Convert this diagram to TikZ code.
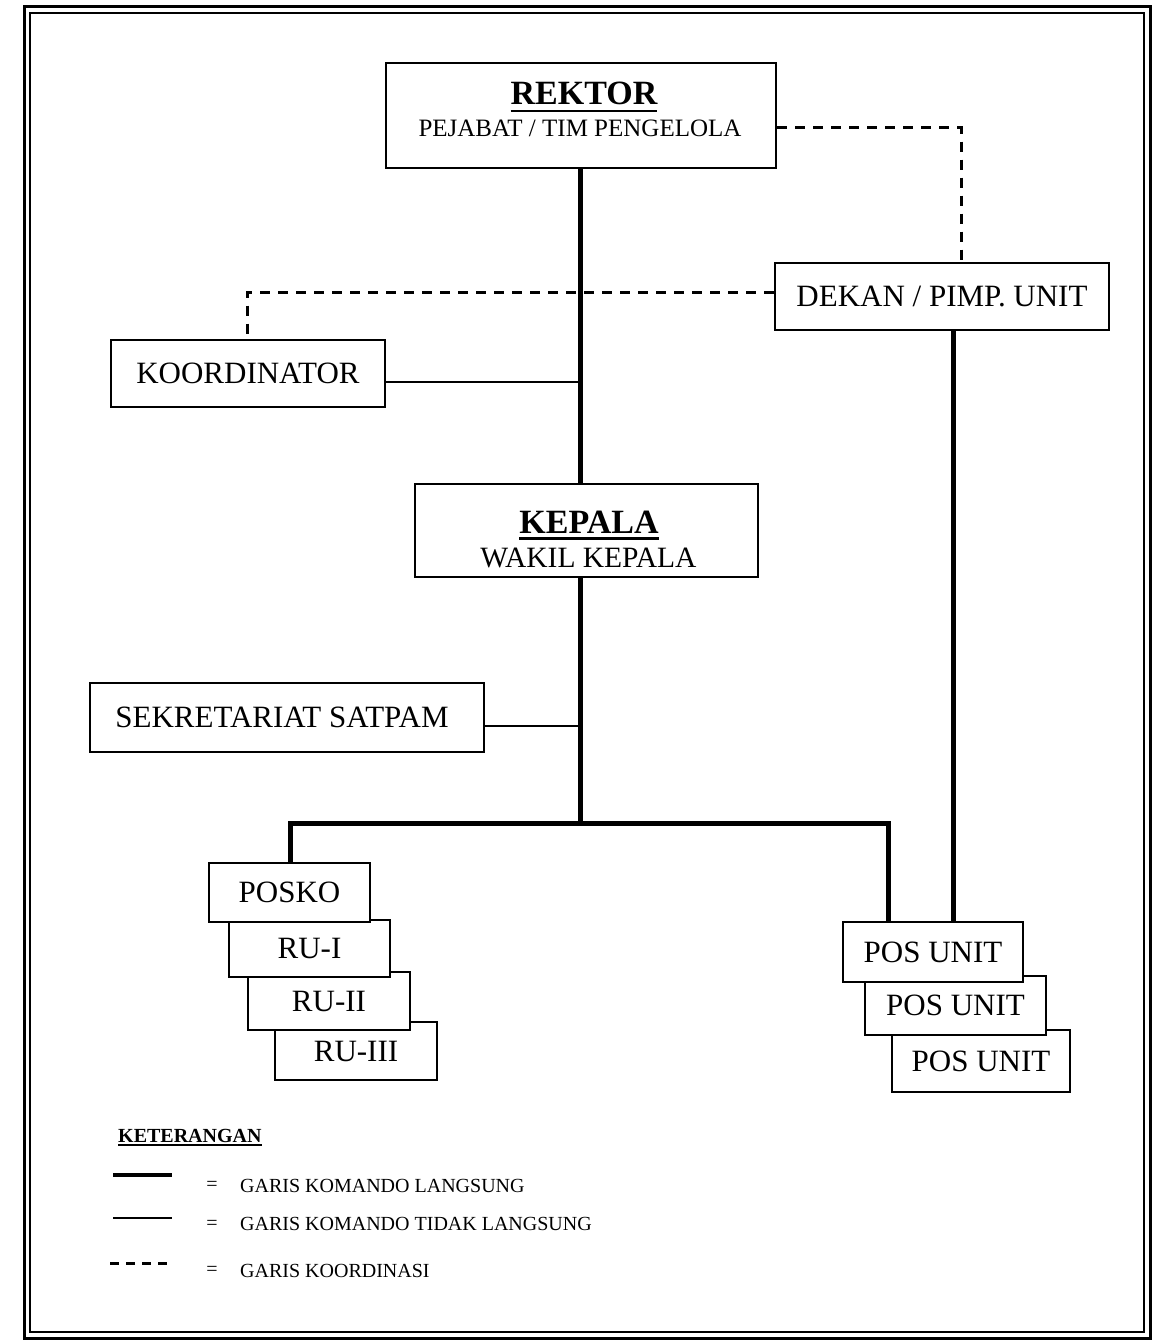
\documentclass[tikz,border=0pt]{standalone}
\usepackage{fontspec}
\setmainfont{Liberation Serif}
\newcommand{\myul}[3]{\setbox0\hbox{#3}\rlap{\raisebox{-#1}{\rule{\wd0}{#2}}}\box0}
\begin{document}
\begin{tikzpicture}[x=1pt,y=-1pt,
  box/.style={draw, line width=2.4pt, fill=white, inner sep=0pt,
    font=\fontsize{31}{31}\selectfont, text height=20.5pt, text depth=0pt},
  direct/.style={line width=5pt},
  indirect/.style={line width=2pt},
  coordline/.style={line width=3pt, dash pattern=on 10pt off 8pt},
  lbl/.style={inner sep=0pt, anchor=base},
  legtext/.style={inner sep=0pt, anchor=base west, font=\fontsize{20}{20}\selectfont},
]
\useasboundingbox (0,0) rectangle (1158,1343);

% double frame
\draw[line width=3pt] (24,7) rectangle (1150,1338);
\draw[line width=1.8pt] (30,13) rectangle (1144,1332);

% helper coordinates
\coordinate (sx) at (580,0);
\coordinate (hb) at (580,823);
\coordinate (bl) at (290,823);
\coordinate (br) at (888,823);
\coordinate (dx) at (953,0);
\coordinate (rx) at (961,0);
\coordinate (kx) at (247,0);

% top boxes
\node[box, minimum width=390pt, minimum height=105pt] (rektor) at (581,115.5) {};
\node[lbl, font=\fontsize{34}{34}\selectfont\bfseries] (rektorT) at (584,105) {\myul{7.5pt}{2.5pt}{REKTOR}};
\node[lbl, font=\fontsize{25}{25}\selectfont] (rektorS) at (580,137) {PEJABAT / TIM PENGELOLA};

\node[box, minimum width=334pt, minimum height=67pt] (dekan) at (942,296.5) {DEKAN / PIMP. UNIT};
\node[box, minimum width=274pt, minimum height=67pt] (koord) at (248,373.5) {KOORDINATOR};

\node[box, minimum width=343pt, minimum height=93pt] (kepala) at (586.5,530.5) {};
\node[lbl, font=\fontsize{34}{34}\selectfont\bfseries] (kepalaT) at (589,533) {\myul{6.5pt}{2.5pt}{KEPALA}};
\node[lbl, font=\fontsize{29.5}{29.5}\selectfont] (kepalaS) at (588.5,567) {WAKIL KEPALA};

\node[box, minimum width=394pt, minimum height=69pt] (sekr) at (287,717.5) {SEKRETARIAT SATPAM\kern10pt};

% stacked boxes (left)
\node[box, minimum width=162pt, minimum height=58pt] (ru3) at (356,1051) {RU-III};
\node[box, minimum width=162pt, minimum height=58pt] (ru2) at (329,1001) {RU-II};
\node[box, minimum width=161pt, minimum height=57pt] (ru1) at (309.5,948.5) {RU-I};
\node[box, minimum width=161pt, minimum height=59pt] (posko) at (289.5,892.5) {POSKO};

% stacked boxes (right)
\node[box, minimum width=178pt, minimum height=62pt] (pos3) at (981,1061) {POS UNIT};
\node[box, minimum width=181pt, minimum height=59pt] (pos2) at (955.5,1005.5) {POS UNIT};
\node[box, minimum width=180pt, minimum height=60pt] (pos1) at (933,952) {POS UNIT};

% connectors
\draw[direct] (rektor.south -| sx) -- (kepala.north -| sx);
\draw[direct] (kepala.south -| sx) -- (hb);
\draw[direct] (posko.north -| bl) -- (bl) -- (br) -- (pos1.north -| br);
\draw[direct] (dekan.south -| dx) -- (pos1.north -| dx);
\draw[indirect] ([yshift=-8pt]koord.east) -- ([yshift=-8pt]koord.east -| sx);
\draw[indirect] ([yshift=-8pt]sekr.east) -- ([yshift=-8pt]sekr.east -| sx);
\draw[coordline] ([yshift=-12pt]rektor.east) -| (dekan.north -| rx);
\draw[coordline] ([yshift=4pt]dekan.west) -| (koord.north -| kx);

% legend
\node[legtext, font=\fontsize{20}{20}\selectfont\bfseries] (ket) at (118,1142) {\myul{4pt}{1.6pt}{KETERANGAN}};
\draw[line width=4.5pt] (113,1175) -- (172,1175);
\draw[indirect] (113,1218) -- (172,1218);
\draw[line width=3pt, dash pattern=on 9pt off 7pt] (110,1263) -- (172,1263);
\node[lbl, font=\fontsize{20}{20}\selectfont] (eq1) at (212,1190) {=};
\node[lbl, font=\fontsize{20}{20}\selectfont] (eq2) at (212,1229) {=};
\node[lbl, font=\fontsize{20}{20}\selectfont] (eq3) at (212,1275) {=};
\node[legtext] (leg1) at (240,1192) {GARIS KOMANDO LANGSUNG};
\node[legtext] (leg2) at (240,1230) {GARIS KOMANDO TIDAK LANGSUNG};
\node[legtext] (leg3) at (240,1277) {GARIS KOORDINASI};
\end{tikzpicture}
\end{document}
